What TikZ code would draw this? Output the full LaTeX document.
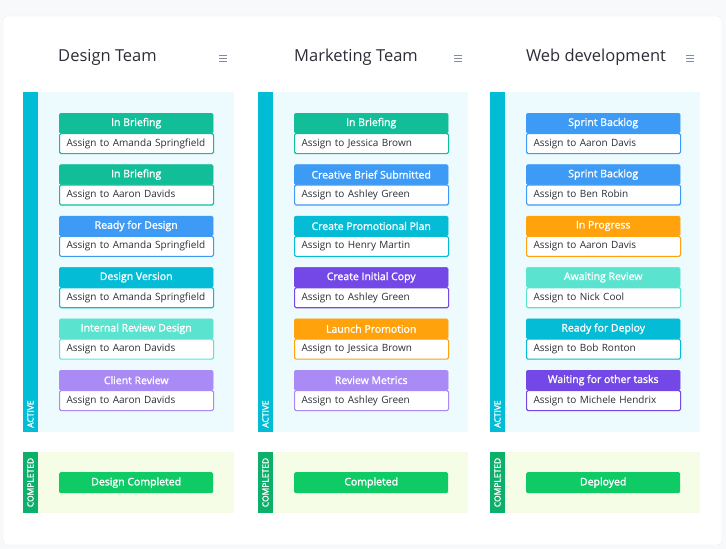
\documentclass[tikz,border=0pt]{standalone}
\usepackage{fontspec}
\setmainfont{Open Sans}
\newfontfamily\semib{Open Sans}[FakeBold=1.5]
\definecolor{cteal}{RGB}{18,190,152}
\definecolor{cblue}{RGB}{62,155,245}
\definecolor{ccyan}{RGB}{4,188,214}
\definecolor{cmint}{RGB}{90,228,208}
\definecolor{clav}{RGB}{170,138,245}
\definecolor{cpurp}{RGB}{116,72,230}
\definecolor{corange}{RGB}{255,162,12}
\definecolor{cgreen}{RGB}{14,203,102}
\definecolor{cdkgreen}{RGB}{12,176,106}
\definecolor{cbar}{RGB}{0,188,212}
\definecolor{cactbg}{RGB}{237,250,254}
\definecolor{ccompbg}{RGB}{246,253,230}
\definecolor{ctext}{RGB}{45,45,55}
\definecolor{cham}{RGB}{125,140,165}
\definecolor{cpage}{RGB}{248,249,250}
\tikzset{
  x=1pt,y=-1pt,
  hdr/.style={minimum width=154pt,minimum height=20pt,inner sep=0pt,anchor=north west,rounded corners=1.5pt,text=white,font=\semib\fontsize{10.5}{12}\selectfont},
  body/.style={minimum width=154pt,text width=140pt,minimum height=20pt,inner xsep=7pt,inner ysep=0pt,anchor=north west,rounded corners=1.5pt,fill=white,line width=1.1pt,align=left,text=ctext,font=\fontsize{10}{12}\selectfont},
  donebox/.style={minimum width=154pt,minimum height=21pt,inner sep=0pt,anchor=north west,rounded corners=1.5pt,fill=cgreen,text=white,font=\semib\fontsize{10.5}{12}\selectfont},
  coltitle/.style={text=ctext,font=\fontsize{16.5}{19}\selectfont,inner sep=0pt},
  sidelbl/.style={rotate=90,text=white,inner sep=0pt,font=\semib\fontsize{8.5}{9}\selectfont},
  hamb/.style={draw=cham,line width=0.8pt},
}
% name, x, y, color, title, assignee
\newcommand{\taskcard}[6]{%
  \node[body,draw=#4] (#1b) at (#2,#3+20) {#6};
  \node[hdr,fill=#4,draw=#4] (#1h) at (#2,#3) {#5};
}
\newcommand{\hamburger}[3]{%
  \coordinate (#1) at (#2,#3);
  \draw[hamb] ([xshift=-4pt,yshift=3pt]#1) -- ([xshift=4pt,yshift=3pt]#1);
  \draw[hamb] ([xshift=-4pt]#1) -- ([xshift=4pt]#1);
  \draw[hamb] ([xshift=-4pt,yshift=-3pt]#1) -- ([xshift=4pt,yshift=-3pt]#1);
}
\newcommand{\column}[3]{% name, barx, panel right
  \fill[cactbg] (#2+15,92) rectangle (#3,432);
  \fill[cbar] (#2,92) rectangle (#2+15,432);
  \node[sidelbl,anchor=west] (#1act) at (#2+7.5,428) {ACTIVE};
  \fill[ccompbg] (#2+15,452) rectangle (#3,513);
  \fill[cdkgreen] (#2,452) rectangle (#2+15,513);
  \node[sidelbl] (#1comp) at (#2+7.5,482.5) {COMPLETED};
}
\begin{document}
\begin{tikzpicture}
\useasboundingbox (0,0) rectangle (726,549);
\fill[cpage] (0,0) rectangle (726,549);
\fill[white,draw=black!8,rounded corners=4pt] (3,16) rectangle (722,545);

\column{d}{23}{234}
\column{m}{258}{468}
\column{w}{490}{700}

\node[coltitle] (tD) at (107.5,57) {Design Team};
\node[coltitle] (tM) at (356,57) {Marketing Team};
\node[coltitle] (tW) at (596,57) {Web development};
\hamburger{hD}{223}{58}
\hamburger{hM}{458}{58}
\hamburger{hW}{690}{58}

% Design
\taskcard{d1}{59}{113}{cteal}{In Briefing}{Assign to Amanda Springfield}
\taskcard{d2}{59}{164.4}{cteal}{In Briefing}{Assign to Aaron Davids}
\taskcard{d3}{59}{215.8}{cblue}{Ready for Design}{Assign to Amanda Springfield}
\taskcard{d4}{59}{267.2}{ccyan}{Design Version}{Assign to Amanda Springfield}
\taskcard{d5}{59}{318.6}{cmint}{Internal Review Design}{Assign to Aaron Davids}
\taskcard{d6}{59}{370}{clav}{Client Review}{Assign to Aaron Davids}
\node[donebox] (dc) at (59,472) {Design Completed};

% Marketing
\taskcard{m1}{294}{113}{cteal}{In Briefing}{Assign to Jessica Brown}
\taskcard{m2}{294}{164.4}{cblue}{Creative Brief Submitted}{Assign to Ashley Green}
\taskcard{m3}{294}{215.8}{ccyan}{Create Promotional Plan}{Assign to Henry Martin}
\taskcard{m4}{294}{267.2}{cpurp}{Create Initial Copy}{Assign to Ashley Green}
\taskcard{m5}{294}{318.6}{corange}{Launch Promotion}{Assign to Jessica Brown}
\taskcard{m6}{294}{370}{clav}{Review Metrics}{Assign to Ashley Green}
\node[donebox] (mc) at (294,472) {Completed};

% Web
\taskcard{w1}{526}{113}{cblue}{Sprint Backlog}{Assign to Aaron Davis}
\taskcard{w2}{526}{164.4}{cblue}{Sprint Backlog}{Assign to Ben Robin}
\taskcard{w3}{526}{215.8}{corange}{In Progress}{Assign to Aaron Davis}
\taskcard{w4}{526}{267.2}{cmint}{Awaiting Review}{Assign to Nick Cool}
\taskcard{w5}{526}{318.6}{ccyan}{Ready for Deploy}{Assign to Bob Ronton}
\taskcard{w6}{526}{370}{cpurp}{Waiting for other tasks}{Assign to Michele Hendrix}
\node[donebox] (wc) at (526,472) {Deployed};
\end{tikzpicture}
\end{document}
